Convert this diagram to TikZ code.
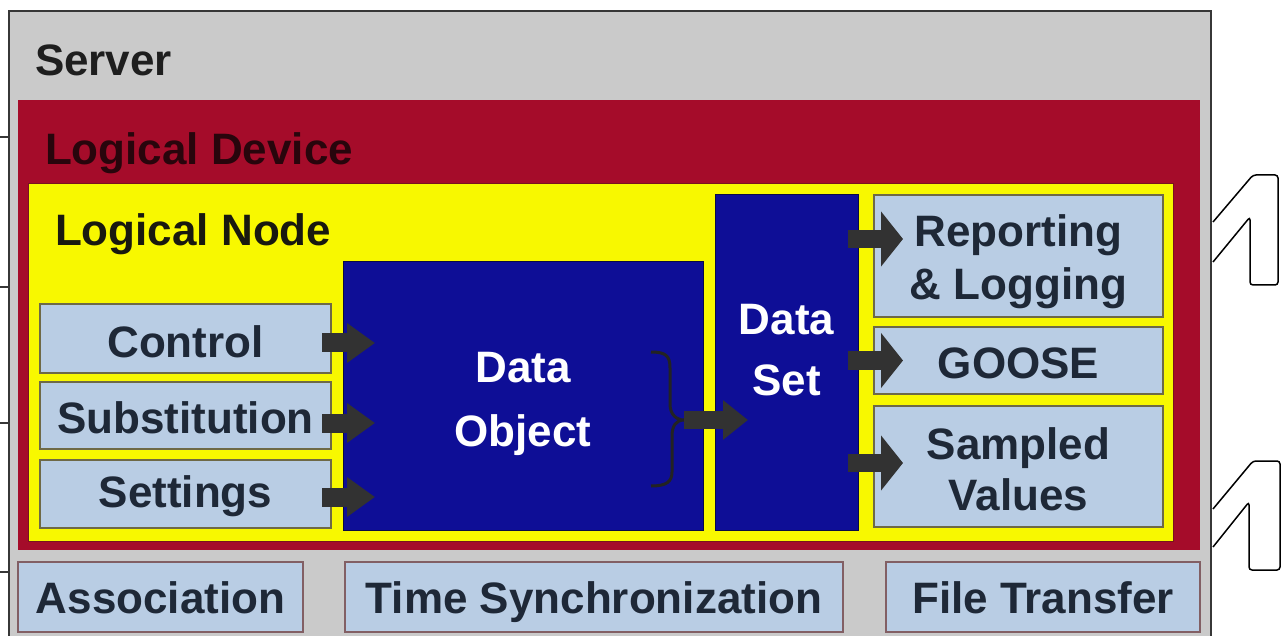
\documentclass[tikz,border=0pt]{standalone}
\usepackage{fontspec}
\setmainfont{Liberation Sans}
\usetikzlibrary{arrows.meta,calc}
\definecolor{srvgray}{RGB}{202,202,202}
\definecolor{srvedge}{RGB}{55,55,55}
\definecolor{ldred}{RGB}{165,12,42}
\definecolor{ldtext}{RGB}{40,5,12}
\definecolor{lnyellow}{RGB}{248,248,0}
\definecolor{lblue}{RGB}{185,205,228}
\definecolor{navy}{RGB}{14,14,150}
\definecolor{navyedge}{RGB}{10,10,70}
\definecolor{txtdark}{RGB}{30,40,55}
\definecolor{arrgray}{RGB}{50,50,50}
\definecolor{boxedge}{RGB}{110,105,70}
\definecolor{btmedge}{RGB}{130,95,100}
\begin{document}
\begin{tikzpicture}[x=1pt,y=-1pt,
  lbl/.style={font=\fontsize{44}{52}\selectfont\bfseries, inner sep=0pt, outer sep=0pt},
  bluebox/.style={draw=boxedge, line width=1.2pt, fill=lblue, text=txtdark, lbl, align=center},
  btmbox/.style={bluebox, draw=btmedge, text height=33pt, text depth=0pt},
  navybox/.style={draw=navyedge, line width=1pt, fill=navy, inner sep=0pt, outer sep=0pt},
  whitetxt/.style={lbl, text=white, align=center},
  darktxt/.style={lbl, text=txtdark, align=center},
  arrowL/.style={draw=arrgray, line width=19pt, -{Triangle[length=28pt,width=38pt]}},
  arrowR/.style={draw=arrgray, line width=18pt, -{Triangle[length=22pt,width=54pt]}},
  arrowM/.style={draw=arrgray, line width=18pt, -{Triangle[length=25pt,width=38pt]}},
  artifact/.style={draw=black, line width=1.5pt, rounded corners=3pt},
]
\useasboundingbox (0,0) rectangle (1288,636);
\clip (0,0) rectangle (1288,636);
\fill[white] (0,0) rectangle (1288,636);
% server
\node[draw=srvedge, line width=2.5pt, fill=srvgray, minimum width=1202pt, minimum height=660pt, inner sep=0pt, outer sep=0pt, anchor=north west] (server) at (9,11) {};
\node[lbl, text={rgb,255:red,30;green,30;blue,30}, anchor=base west] (servertitle) at (35,76) {Server};
% logical device
\node[fill=ldred, minimum width=1182pt, minimum height=450pt, inner sep=0pt, outer sep=0pt] (ld) at (609,325) {};
\node[lbl, text=ldtext, anchor=base west] (ldtitle) at (45,165) {Logical Device};
% logical node
\node[fill=lnyellow, draw={rgb,255:red,120;green,20;blue,30}, line width=0.8pt, minimum width=1145pt, minimum height=358pt, inner sep=0pt, outer sep=0pt] (ln) at (600.5,362) {};
\node[lbl, text={rgb,255:red,25;green,25;blue,15}, anchor=base west] (lntitle) at (55,246) {Logical Node};
% left boxes
\node[bluebox, minimum width=291pt, minimum height=69pt] (ctrl) at (185.5,338.5) {};
\node[darktxt, anchor=base] (ctrllbl) at (185.5,357) {Control};
\node[bluebox, minimum width=291pt, minimum height=67pt] (subst) at (185.5,415.5) {};
\node[darktxt, anchor=base] (substlbl) at (185.5,433) {Substitution};
\node[bluebox, minimum width=291pt, minimum height=68pt] (sett) at (185.5,494) {};
\node[darktxt, anchor=base] (settlbl) at (185.5,507) {Settings};
% data object / data set
\node[navybox, minimum width=360pt, minimum height=268pt] (dobj) at (523,396) {};
\node[whitetxt, font=\fontsize{44}{64}\selectfont\bfseries] (dobjlbl) at (523,404) {Data\\Object};
\node[navybox, minimum width=143pt, minimum height=335pt] (dset) at (786.5,362.5) {};
\node[whitetxt, font=\fontsize{44}{61}\selectfont\bfseries] (dsetlbl) at (786.5,350) {Data\\Set};
% right boxes
\node[bluebox, minimum width=289pt, minimum height=122pt] (rep) at (1018.5,256) {};
\node[darktxt, font=\fontsize{44}{53}\selectfont\bfseries] (replbl) at (1018.5,262) {Reporting\\\& Logging};
\node[bluebox, minimum width=289pt, minimum height=67pt] (goose) at (1018.5,360.5) {};
\node[darktxt, anchor=base] (gooselbl) at (1018.5,378) {GOOSE};
\node[bluebox, minimum width=289pt, minimum height=121pt] (sv) at (1018.5,466.5) {};
\node[darktxt, font=\fontsize{44}{51}\selectfont\bfseries] (svlbl) at (1018.5,469) {Sampled\\Values};
% bottom boxes
\node[btmbox, minimum width=285pt, minimum height=70pt] (assoc) at (160.5,597) {Association};
\node[btmbox, minimum width=498pt, minimum height=70pt] (tsync) at (594,597) {Time Synchronization};
\node[btmbox, minimum width=314pt, minimum height=70pt] (ftrans) at (1043,597) {File Transfer};
% left arrows
\draw[arrowL] ($(ctrl.east)+(-9,4.5)$) -- ($(dobj.west |- ctrl.east)+(32,4.5)$);
\draw[arrowL] ($(subst.east)+(-9,7.5)$) -- ($(dobj.west |- subst.east)+(32,7.5)$);
\draw[arrowL] ($(sett.east)+(-9,3)$) -- ($(dobj.west |- sett.east)+(32,3)$);
% bracket
\coordinate (brtop) at (651,352);
\coordinate (brmid) at (684,420);
\coordinate (brbot) at (651,486);
\draw[draw={rgb,255:red,35;green,35;blue,35}, line width=3pt]
  (brtop) .. controls (666,352) and (670,356) .. (670,368) -- (670,404)
  .. controls (670,414) and (676,420) .. (brmid)
  .. controls (676,420) and (672,426) .. (672,436) -- (672,472)
  .. controls (672,482) and (666,486) .. (brbot);
\draw[arrowM] (brmid) -- ($(dset.west |- brmid)+(33,0)$);
% right arrows
\draw[arrowR] ($(dset.east |- rep.west)+(-10,-17)$) -- ($(rep.west)+(29,-17)$);
\draw[arrowR] ($(dset.east |- goose.west)+(-10,0)$) -- ($(goose.west)+(29,0)$);
\draw[arrowR] ($(dset.east |- sv.west)+(-10,-3.5)$) -- ($(sv.west)+(29,-3.5)$);
% left tick marks
\foreach \yy in {137,287,423,572} \draw[srvedge, line width=1.2pt] (0,\yy) -- (9,\yy);
% right side marks
\draw[artifact] (1213,222) -- (1253,175) -- (1278,175) -- (1278,285) -- (1250,285) -- (1250,217) -- (1213,262);
\draw[artifact] (1213,509) -- (1253,461) -- (1280,461) -- (1280,570) -- (1249,570) -- (1249,502) -- (1213,547);
\end{tikzpicture}
\end{document}
